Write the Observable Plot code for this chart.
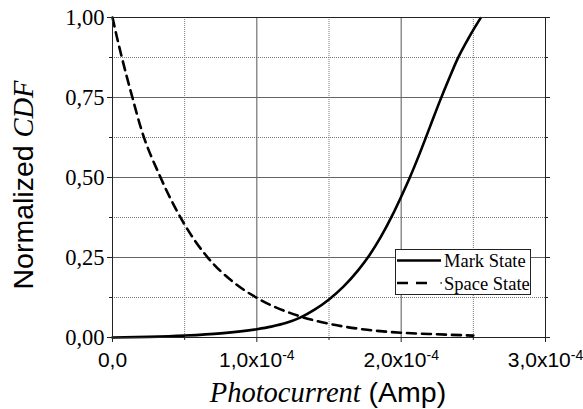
<!DOCTYPE html>
<html><head><meta charset="utf-8">
<script src="https://cdn.jsdelivr.net/npm/d3@7"></script>
<script src="https://cdn.jsdelivr.net/npm/@observablehq/plot@0.6"></script>
<style>body{margin:0;background:#fff}</style>
</head><body><div id="chart"></div>
<script>
// Mark State (solid) readings
const markX = [0, 0.25e-4, 0.5e-4, 0.75e-4, 1.0e-4, 1.1e-4, 1.2e-4, 1.3e-4, 1.4e-4, 1.5e-4, 1.6e-4, 1.7e-4, 1.78e-4, 1.86e-4, 1.94e-4, 2.0e-4, 2.06e-4, 2.13e-4, 2.2e-4, 2.27e-4, 2.33e-4, 2.39e-4, 2.47e-4, 2.55e-4];
const markY = [0, 0.002, 0.006, 0.013, 0.026, 0.034, 0.045, 0.062, 0.087, 0.119, 0.159, 0.209, 0.257, 0.315, 0.383, 0.44, 0.5, 0.577, 0.659, 0.741, 0.807, 0.87, 0.938, 0.998];
// Space State (dashed) readings
const spaceX = [0, 0.03e-4, 0.062e-4, 0.132e-4, 0.2e-4, 0.333e-4, 0.494e-4, 0.656e-4, 0.84e-4, 1.0e-4, 1.3e-4, 1.5e-4, 1.765e-4, 2.0e-4, 2.25e-4, 2.5e-4];
const spaceY = [1.0, 0.94, 0.88, 0.76, 0.65, 0.5, 0.357, 0.252, 0.172, 0.124, 0.066, 0.043, 0.024, 0.015, 0.01, 0.006];

const xMajorTicks = [0, 1e-4, 2e-4, 3e-4];
const xMinorTicks = [0.5e-4, 1.5e-4, 2.5e-4];
const yMajorTicks = [0, 0.25, 0.5, 0.75, 1];
const yMinorTicks = [0.125, 0.375, 0.625, 0.875];
const xTickLabels = ["0,0", "1,0x10", "2,0x10", "3,0x10"];
const xTickExps = ["", "-4", "-4", "-4"];
const yTickLabels = ["0,00", "0,25", "0,50", "0,75", "1,00"];
const seriesNames = ["Mark State", "Space State"];
const xTitleParts = ["Photocurrent", " (Amp)"];
const yTitleParts = ["Normalized ", "CDF"];

const mark = markX.map((x, i) => ({x, y: markY[i]}));
const space = spaceX.map((x, i) => ({x, y: spaceY[i]}));

const serif = "'Liberation Serif', 'Times New Roman', serif";
const sans = "'Liberation Sans', Arial, sans-serif";

const svg = Plot.plot({
  width: 583, height: 409,
  marginLeft: 112, marginRight: 38, marginTop: 17, marginBottom: 72,
  x: {domain: [0, 3e-4]},
  y: {domain: [0, 1]},
  style: {background: "white", overflow: "visible"},
  marks: [
    Plot.gridX({ticks: xMinorTicks, stroke: "#777", strokeOpacity: 1, strokeDasharray: "1,1"}),
    Plot.gridY({ticks: yMinorTicks, stroke: "#777", strokeOpacity: 1, strokeDasharray: "1,1"}),
    Plot.gridX({ticks: xMajorTicks.slice(1, -1), stroke: "#555", strokeOpacity: 1}),
    Plot.gridY({ticks: yMajorTicks.slice(1, -1), stroke: "#666", strokeOpacity: 1}),
    Plot.line(mark, {x: "x", y: "y", curve: "monotone-x", stroke: "black", strokeWidth: 2.6}),
    Plot.line(space, {x: "x", y: "y", curve: "monotone-x", stroke: "black", strokeWidth: 2.6, strokeDasharray: "9,6"}),
    Plot.frame({stroke: "#222"}),
    Plot.axisX({ticks: xMajorTicks, tickSize: 5, tickPadding: 10, label: null,
      tickFormat: d => xTickLabels[xMajorTicks.indexOf(d)],
      fontSize: 21, fontFamily: sans, fill: "black", stroke: "#222"}),
    Plot.axisX({ticks: xMinorTicks, tickSize: 3, label: null, tickFormat: () => "", stroke: "#222"}),
    Plot.axisY({ticks: yMajorTicks, tickSize: 5, tickPadding: 3, label: null,
      tickFormat: d => yTickLabels[yMajorTicks.indexOf(d)],
      fontSize: 22.5, fontFamily: serif, fill: "black", stroke: "#222"}),
    Plot.axisY({ticks: yMinorTicks, tickSize: 3, label: null, tickFormat: () => "", stroke: "#222"}),
    Plot.axisY({ticks: yMajorTicks, anchor: "right", tickSize: 4, label: null, tickFormat: () => "", stroke: "#222"}),
    Plot.axisY({ticks: yMinorTicks, anchor: "right", tickSize: 2, label: null, tickFormat: () => "", stroke: "#222"})
  ]
});

const s = d3.select(svg);
// superscript exponents on x tick labels
s.selectAll('g[aria-label="x-axis tick label"] text').each(function() {
  const t = this.textContent;
  const i = xTickLabels.indexOf(t);
  if (i >= 0 && xTickExps[i]) {
    d3.select(this).append("tspan").attr("dy", "-0.55em").attr("font-size", 14).text(xTickExps[i]);
  }
});

// x title
const xt = s.append("text").attr("x", 328).attr("y", 402).attr("text-anchor", "middle")
  .attr("font-size", 28.5).attr("fill", "black");
xt.append("tspan").attr("font-family", serif).attr("font-style", "italic").text(xTitleParts[0]);
xt.append("tspan").attr("font-family", sans).text(xTitleParts[1]);

// y title
const yt = s.append("text").attr("transform", "translate(33,185) rotate(-90)").attr("text-anchor", "middle")
  .attr("font-size", 28.5).attr("fill", "black");
yt.append("tspan").attr("font-family", sans).text(yTitleParts[0]);
yt.append("tspan").attr("font-family", serif).attr("font-style", "italic").text(yTitleParts[1]);

// legend
const lg = s.append("g");
lg.append("rect").attr("x", 395.5).attr("y", 249.5).attr("width", 135).attr("height", 45)
  .attr("fill", "white").attr("stroke", "#222");
lg.append("line").attr("x1", 397).attr("x2", 441).attr("y1", 260.5).attr("y2", 260.5)
  .attr("stroke", "black").attr("stroke-width", 2.6);
lg.append("line").attr("x1", 397).attr("x2", 432).attr("y1", 283).attr("y2", 283)
  .attr("stroke", "black").attr("stroke-width", 2.6).attr("stroke-dasharray", "11,8");
lg.append("line").attr("x1", 440.5).attr("x2", 441.8).attr("y1", 283).attr("y2", 283)
  .attr("stroke", "black").attr("stroke-width", 1.5);
lg.append("text").attr("x", 444).attr("y", 267).attr("text-anchor", "start").attr("font-family", serif).attr("font-size", 18.5)
  .attr("fill", "black").text(seriesNames[0]);
lg.append("text").attr("x", 444).attr("y", 290).attr("text-anchor", "start").attr("font-family", serif).attr("font-size", 18.5)
  .attr("fill", "black").text(seriesNames[1]);

document.getElementById("chart").appendChild(svg);
</script>
</body></html>
